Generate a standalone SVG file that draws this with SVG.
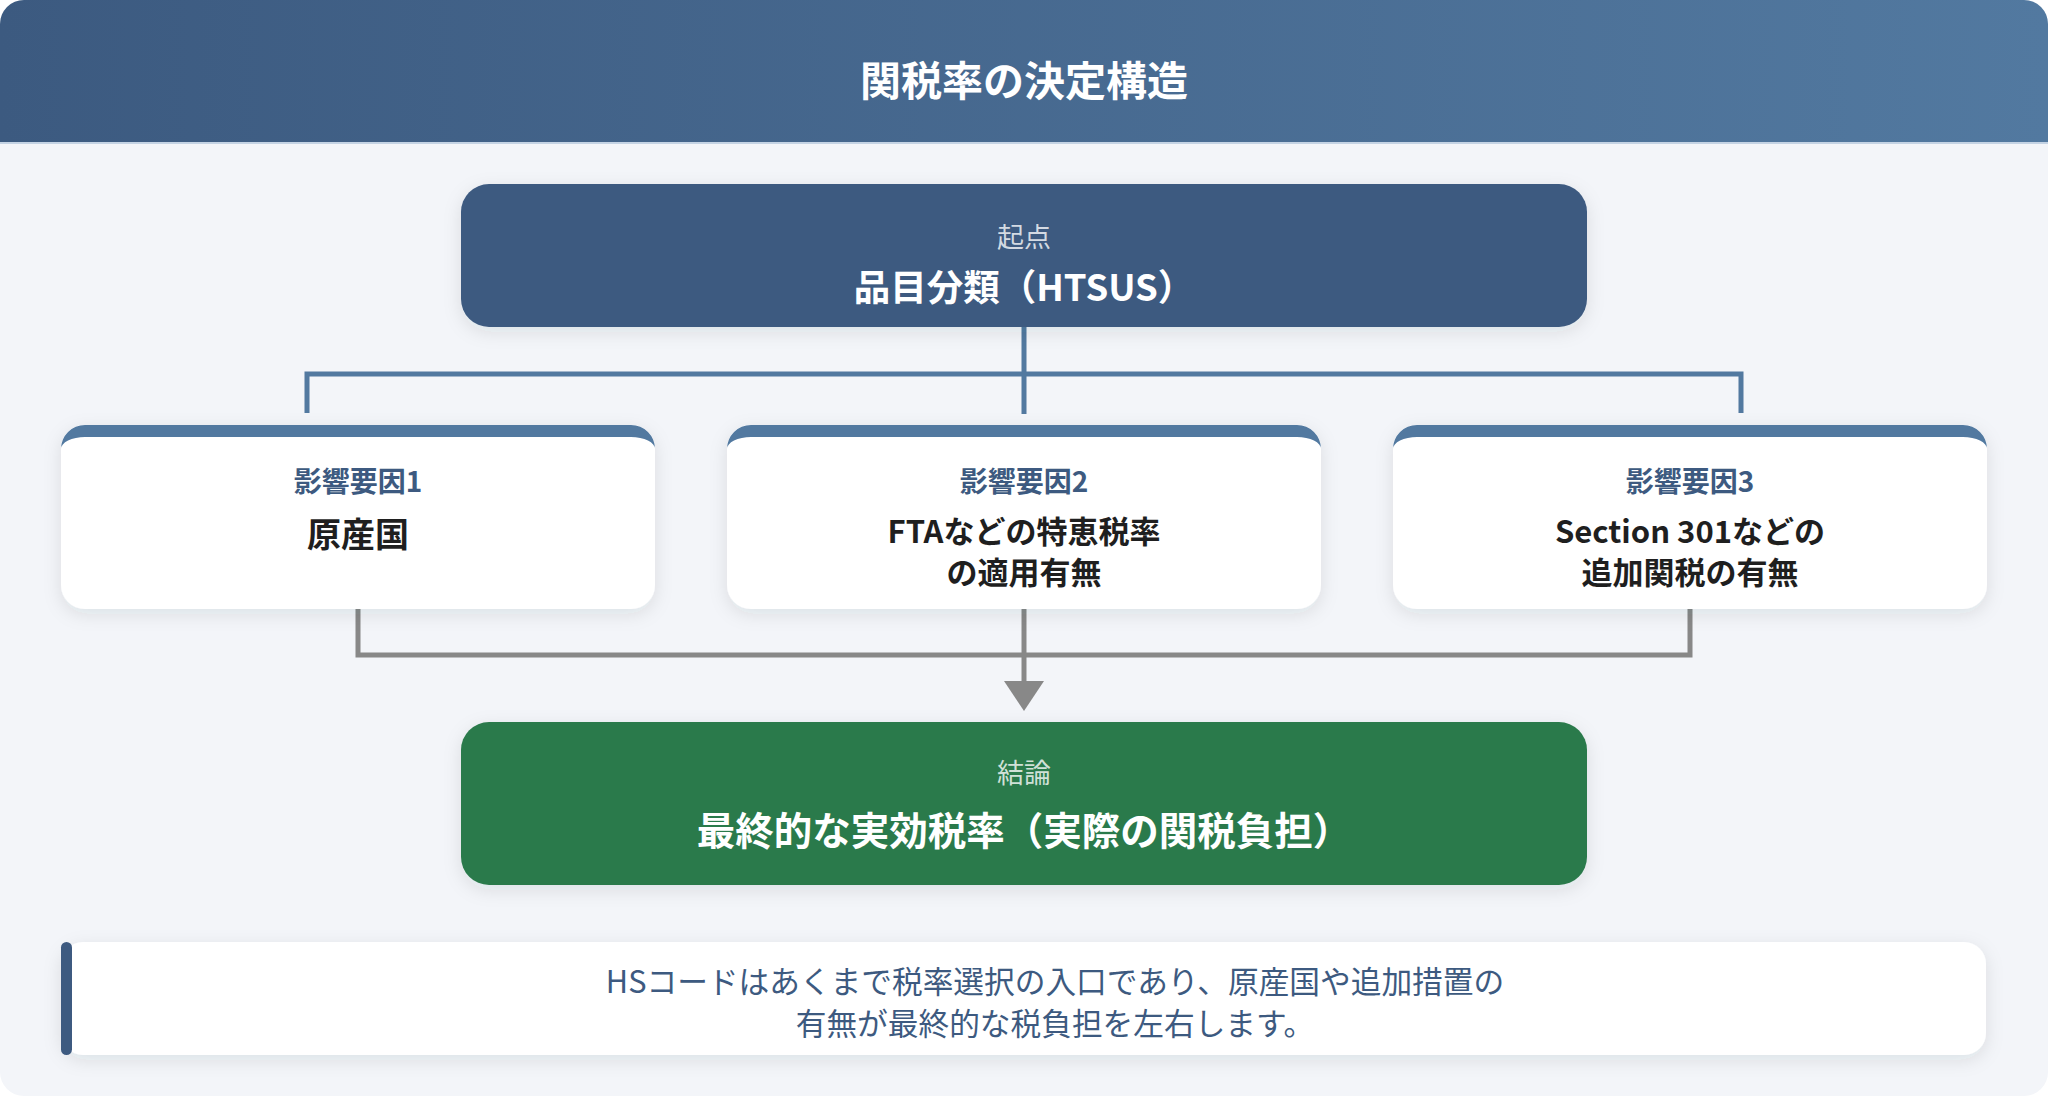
<svg xmlns="http://www.w3.org/2000/svg" width="2048" height="1096" viewBox="0 0 2048 1096">
<defs>
<linearGradient id="hdr" x1="0" y1="0" x2="1" y2="0">
<stop offset="0" stop-color="#3c5a80"/>
<stop offset="1" stop-color="#5279a0"/>
</linearGradient>
<clipPath id="panel"><rect x="0" y="0" width="2048" height="1096" rx="24"/></clipPath>
<filter id="sh" x="-10%" y="-20%" width="120%" height="150%">
<feDropShadow dx="0" dy="5" stdDeviation="9" flood-color="#1e2a3a" flood-opacity="0.10"/>
</filter>
<marker id="arr" viewBox="0 0 30 40" refX="0" refY="20" markerWidth="30" markerHeight="40" markerUnits="userSpaceOnUse" orient="auto">
<path d="M0 0 L30 20 L0 40 Z" fill="#888888"/>
</marker>
<style>
text{font-family:'Noto Sans CJK JP','Noto Sans',sans-serif;text-anchor:middle}
.title{font-size:41px;font-weight:700;fill:#ffffff}
.sub{font-size:27px;font-weight:400;fill:#ffffff;fill-opacity:0.78}
.main{font-size:36.5px;font-weight:700;fill:#ffffff}
.lbl{font-size:28px;font-weight:700;fill:#3d5a80}
.val{font-size:31px;font-weight:700;fill:#1f1f1f}
.val1{font-size:34px;font-weight:700;fill:#1f1f1f}
.note{font-size:30.7px;font-weight:400;fill:#3d5a80}
.card{fill:#ffffff;filter:url(#sh)}
.cap{fill:#5279a0}
.blue{fill:none;stroke:#5279a0;stroke-width:5}
.gray{fill:none;stroke:#888888;stroke-width:5}
</style>
</defs>
<rect x="0" y="0" width="2048" height="1096" fill="#ffffff"/>
<g clip-path="url(#panel)">
<rect x="0" y="0" width="2048" height="1096" fill="#f3f5f9"/>
<rect x="0" y="0" width="2048" height="143" fill="url(#hdr)"/>
<rect x="0" y="142" width="2048" height="2" fill="#c4d3e4"/>
</g>
<g id="header">
<text class="title" x="1024" y="96">関税率の決定構造</text>
</g>
<g id="connectors">
<path class="blue" d="M1024 327 V414 M307 413 V374 H1741 V413"/>
<path class="gray" d="M358 609 V655 H1690 V609"/>
<path class="gray" d="M1024 609 V681" marker-end="url(#arr)"/>
</g>
<g id="start">
<rect x="461" y="184" width="1126" height="143" rx="28" fill="#3d5a80" filter="url(#sh)"/>
<text class="sub" x="1024" y="247">起点</text>
<text class="main" x="1024" y="301">品目分類（HTSUS）</text>
</g>
<g id="factor1">
<rect class="card" x="61" y="425" width="594" height="184" rx="24"/>
<path class="cap" d="M61 449 A24 24 0 0 1 85 425 H631 A24 24 0 0 1 655 449 A24 12 0 0 0 631 437 H85 A24 12 0 0 0 61 449 Z"/>
<text class="lbl" x="358" y="492">影響要因1</text>
<text class="val1" x="358" y="547">原産国</text>
</g>
<g id="factor2">
<rect class="card" x="727" y="425" width="594" height="184" rx="24"/>
<path class="cap" d="M727 449 A24 24 0 0 1 751 425 H1297 A24 24 0 0 1 1321 449 A24 12 0 0 0 1297 437 H751 A24 12 0 0 0 727 449 Z"/>
<text class="lbl" x="1024" y="492">影響要因2</text>
<text class="val" x="1024" y="543">FTAなどの特恵税率</text>
<text class="val" x="1024" y="584">の適用有無</text>
</g>
<g id="factor3">
<rect class="card" x="1393" y="425" width="594" height="184" rx="24"/>
<path class="cap" d="M1393 449 A24 24 0 0 1 1417 425 H1963 A24 24 0 0 1 1987 449 A24 12 0 0 0 1963 437 H1417 A24 12 0 0 0 1393 449 Z"/>
<text class="lbl" x="1690" y="492">影響要因3</text>
<text class="val" x="1690" y="543">Section 301などの</text>
<text class="val" x="1690" y="584">追加関税の有無</text>
</g>
<g id="result">
<rect x="461" y="722" width="1126" height="163" rx="28" fill="#2c7a4c" filter="url(#sh)"/>
<text class="sub" x="1024" y="783">結論</text>
<text class="main" x="1024" y="845" style="font-size:38.5px">最終的な実効税率（実際の関税負担）</text>
</g>
<g id="note">
<rect class="card" x="61" y="942" width="1925" height="113" rx="22"/>
<rect x="61" y="942" width="11" height="113" rx="5.5" fill="#3d5a80"/>
<text class="note" x="1055" y="993">HSコードはあくまで税率選択の入口であり、原産国や追加措置の</text>
<text class="note" x="1055" y="1035">有無が最終的な税負担を左右します。</text>
</g>
</svg>
